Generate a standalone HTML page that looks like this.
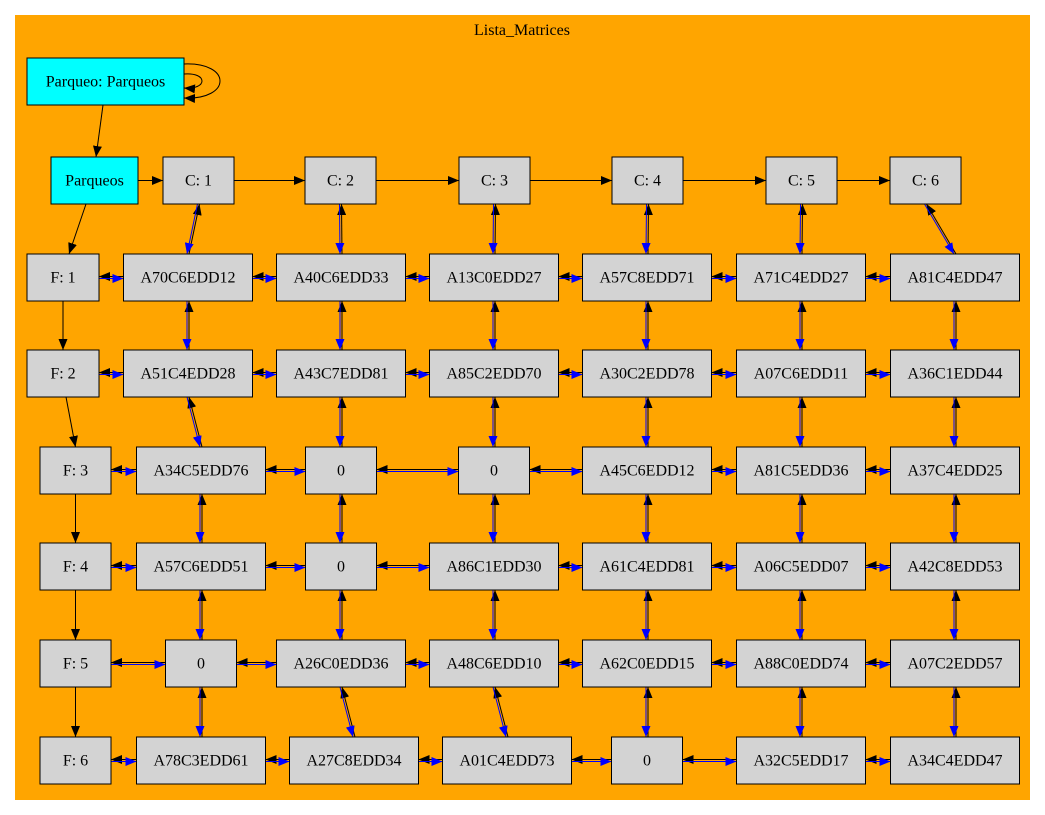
<!DOCTYPE html>
<html><head><meta charset="utf-8"><style>
html,body{margin:0;padding:0;background:#fff;}
svg{display:block;}
text{font-family:"Liberation Serif",serif;font-size:16px;}
</style></head><body>
<svg id="g" width="1045" height="815" viewBox="0 0 1045 815" xmlns="http://www.w3.org/2000/svg">
<defs>
<marker id="ab" markerWidth="11" markerHeight="9" refX="11" refY="4.5" orient="auto" markerUnits="userSpaceOnUse"><path d="M0,0 L11,4.5 L0,9 Z" fill="#000"/></marker>
<marker id="au" markerWidth="11" markerHeight="9" refX="11" refY="4.5" orient="auto" markerUnits="userSpaceOnUse"><path d="M0,0 L11,4.5 L0,9 Z" fill="#0000ff"/></marker>
</defs>
<rect x="15" y="15" width="1015" height="785" fill="#ffa500"/>
<text x="522" y="35" text-anchor="middle">Lista_Matrices</text>
<g id="edges"></g>
<g id="nodes"></g>
</svg>
<script>
const headerLabels=["C: 1","C: 2","C: 3","C: 4","C: 5","C: 6"];
const rowLabels=["F: 1","F: 2","F: 3","F: 4","F: 5","F: 6"];
const cellLabels=[
["A70C6EDD12","A40C6EDD33","A13C0EDD27","A57C8EDD71","A71C4EDD27","A81C4EDD47"],
["A51C4EDD28","A43C7EDD81","A85C2EDD70","A30C2EDD78","A07C6EDD11","A36C1EDD44"],
["A34C5EDD76","0","0","A45C6EDD12","A81C5EDD36","A37C4EDD25"],
["A57C6EDD51","0","A86C1EDD30","A61C4EDD81","A06C5EDD07","A42C8EDD53"],
["0","A26C0EDD36","A48C6EDD10","A62C0EDD15","A88C0EDD74","A07C2EDD57"],
["A78C3EDD61","A27C8EDD34","A01C4EDD73","0","A32C5EDD17","A34C4EDD47"]];
// layout
const rowTop=[254,350,447,543,640,737];
const H=47;
const colCenter=[198,341,494,647,801,955];
const headerX=[[163,234],[305,376],[459,530],[612,683],[766,837],[890,961]];
const rowHeadX=[[27,99],[27,99],[40,111],[40,111],[40,111],[40,111]];
const NS="http://www.w3.org/2000/svg";
const E=document.getElementById('edges'),N=document.getElementById('nodes');
function box(x1,y1,x2,label,fill,name){
 const r=document.createElementNS(NS,'rect');
 r.setAttribute('x',x1);r.setAttribute('y',y1);r.setAttribute('width',x2-x1);r.setAttribute('height',H);
 r.setAttribute('fill',fill);r.setAttribute('stroke','#000');r.setAttribute('stroke-width','1');
 
 
 N.appendChild(r);
 const t=document.createElementNS(NS,'text');
 t.setAttribute('x',(x1+x2)/2);t.setAttribute('y',y1+H/2+5);t.setAttribute('text-anchor','middle');
 t.textContent=label;
 
 
 N.appendChild(t);
 return {x1,x2,y1,y2:y1+H,cx:(x1+x2)/2,cy:y1+H/2};
}
function line(x1,y1,x2,y2,color,mk,name){
 const l=document.createElementNS(NS,'line');
 l.setAttribute('x1',x1);l.setAttribute('y1',y1);l.setAttribute('x2',x2);l.setAttribute('y2',y2);
 l.setAttribute('stroke',color);l.setAttribute('stroke-width','1');l.setAttribute('marker-end','url(#'+mk+')');
 
 
 E.appendChild(l);
}
function dbl(a,b,horiz,name){
 if(horiz){const y=a.cy;
  line(b.x1,y-1,a.x2,y-1,'#000','ab',name+'-back');
  line(a.x2,y+1,b.x1,y+1,'#0000ff','au',name+'-fwd');
 }else{
  line(b.cx+1,b.y1,a.cx+1,a.y2,'#000','ab',name+'-back');
  line(a.cx-1,a.y2,b.cx-1,b.y1,'#0000ff','au',name+'-fwd');
 }
}
const P=box(27,58,184,"Parqueo: Parqueos","#00ffff","root-node");
// self loops
const loops=[[74,88,208],[64,98,232]];
loops.forEach(v=>{
 const p=document.createElementNS(NS,'path');
 p.setAttribute('d',`M184,${v[0]} C${v[2]},${v[0]-2} ${v[2]},${v[1]+2} 184,${v[1]}`);
 p.setAttribute('fill','none');p.setAttribute('stroke','#000');p.setAttribute('marker-end','url(#ab)');
 
 
 E.appendChild(p);
});
const PQ=box(51,157,138,"Parqueos","#00ffff","parqueos-node");
line(103,105,96,157,'#000','ab','edge-root-parqueos');
const hdr=headerLabels.map((l,i)=>box(headerX[i][0],157,headerX[i][1],l,"#d3d3d3","column-header-"+(i+1)));
line(PQ.x2,PQ.cy,hdr[0].x1,PQ.cy,'#000','ab','edge-parqueos-c1');
for(let i=1;i<hdr.length;i++)line(hdr[i-1].x2,hdr[i].cy,hdr[i].x1,hdr[i].cy,'#000','ab','edge-column-chain');
const rh=rowLabels.map((l,i)=>box(rowHeadX[i][0],rowTop[i],rowHeadX[i][1],l,"#d3d3d3","row-header-"+(i+1)));
line(86,204,69,rh[0].y1,'#000','ab','edge-parqueos-f1');
for(let i=1;i<rh.length;i++)line(rh[i-1].cx+(i==2?3:0),rh[i-1].y2,rh[i].cx,rh[i].y1,'#000','ab','edge-row-chain');
const cells=cellLabels.map((row,r)=>row.map((l,c)=>{
 const w=(l==="0")?71:129;
 let cx=colCenter[c];
 if(c===0)cx=(r<2)?188:201;
 if(r===5&&c===1)cx=354; if(r===5&&c===2)cx=507;
 return box(cx-w/2,rowTop[r],cx+w/2,l,"#d3d3d3","cell-r"+(r+1)+"-c"+(c+1));
}));
cells.forEach((row,r)=>{
 dbl(rh[r],row[0],true,'edge-row'+(r+1)+'-start');
 for(let c=1;c<row.length;c++)dbl(row[c-1],row[c],true,'edge-row'+(r+1)+'-h');
});
for(let c=0;c<6;c++){
 dbl(hdr[c],cells[0][c],false,'edge-col'+(c+1)+'-start');
 for(let r=1;r<6;r++)dbl(cells[r-1][c],cells[r][c],false,'edge-col'+(c+1)+'-v');
}
</script>
</body></html>
